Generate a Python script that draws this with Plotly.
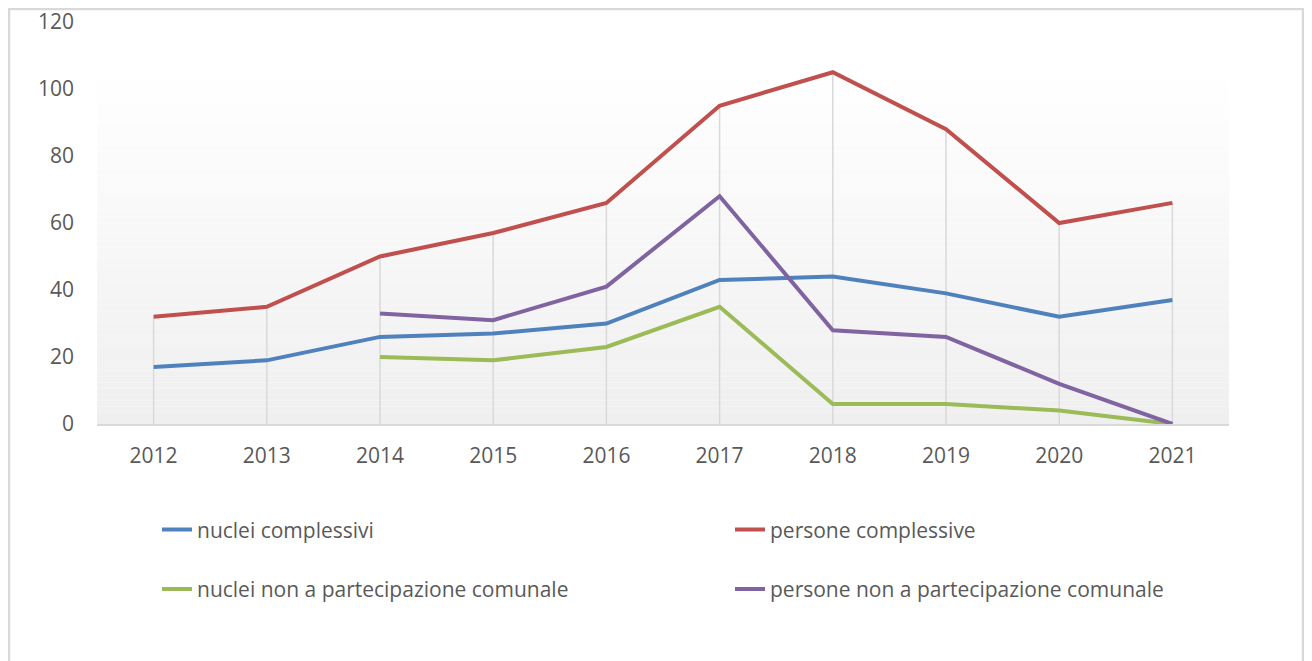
import plotly.graph_objects as go

years = ["2012", "2013", "2014", "2015", "2016", "2017", "2018", "2019", "2020", "2021"]
nuclei_complessivi = [17, 19, 26, 27, 30, 43, 44, 39, 32, 37]
persone_complessive = [32, 35, 50, 57, 66, 95, 105, 88, 60, 66]
nuclei_non_part = [None, None, 20, 19, 23, 35, 6, 6, 4, 0]
persone_non_part = [None, None, 33, 31, 41, 68, 28, 26, 12, 0]
y_ticks = [0, 20, 40, 60, 80, 100, 120]

series = [
    ("nuclei complessivi", nuclei_complessivi, "#4f81bd", "legend"),
    ("persone complessive", persone_complessive, "#c0504d", "legend2"),
    ("nuclei non a partecipazione comunale", nuclei_non_part, "#9bbb59", "legend"),
    ("persone non a partecipazione comunale", persone_non_part, "#8064a2", "legend2"),
]

FONT = "Open Sans"
TXT = "#595959"

fig = go.Figure()

# drop lines: from 0 up to the highest series value at each category
dx, dy = [], []
for i, yr in enumerate(years):
    vals = [s[1][i] for s in series if s[1][i] is not None]
    dx += [yr, yr, None]
    dy += [0, max(vals), None]
fig.add_trace(go.Scatter(x=dx, y=dy, mode="lines", line=dict(color="#d9d9d9", width=1.5),
                         hoverinfo="skip", showlegend=False, cliponaxis=False))

for k, (name, vals, col, lg) in enumerate(series):
    fig.add_trace(go.Scatter(x=years, y=vals, name=name, mode="lines",
                             line=dict(color=col, width=4), cliponaxis=False,
                             legend=lg, legendgroup=name))

# gradient background bands (white at top to light grey at bottom)
shapes = []
n = 60
top_val = 106
for i in range(n):
    y0 = top_val * i / n
    y1 = top_val * (i + 1) / n
    t = (i + 0.5) / n
    c = int(round(239 + (255 - 239) * t))
    shapes.append(dict(type="rect", xref="paper", yref="y", x0=0, x1=1, y0=y0, y1=y1,
                       fillcolor=f"rgb({c},{c},{c})", line=dict(width=0), layer="below"))
# outer chart border
shapes.append(dict(type="rect", xref="paper", yref="paper", x0=-0.0777, x1=1.0654,
                   y0=-0.65, y1=1.0323, line=dict(color="#d9d9d9", width=2.5),
                   fillcolor="rgba(0,0,0,0)", layer="above"))

fig.update_layout(
    width=1304, height=653,
    margin=dict(l=89, r=83, t=14, b=237),
    paper_bgcolor="white", plot_bgcolor="rgba(0,0,0,0)",
    font=dict(family=FONT, size=21, color=TXT),
    shapes=shapes,
    xaxis=dict(type="category", range=[-0.5, 9.5], showgrid=False, zeroline=False,
               showline=True, linecolor="#d9d9d9", linewidth=1.5, ticks="",
               tickfont=dict(family=FONT, size=21, color=TXT), ticklabelstandoff=12,
               automargin=False),
    yaxis=dict(range=[0, 120], tickvals=y_ticks, showgrid=False, zeroline=False,
               showline=False, ticks="", tickfont=dict(family=FONT, size=21, color=TXT),
               ticklabelstandoff=22, ticklabeloverflow="allow", automargin=False),
    legend=dict(x=(157 - 97) / 1132, y=-0.2126, xanchor="left", yanchor="top",
                orientation="v", tracegroupgap=29, bgcolor="rgba(0,0,0,0)",
                font=dict(family=FONT, size=21, color=TXT)),
    legend2=dict(x=(730 - 97) / 1132, y=-0.2126, xanchor="left", yanchor="top",
                 orientation="v", tracegroupgap=29, bgcolor="rgba(0,0,0,0)",
                 font=dict(family=FONT, size=21, color=TXT)),
    showlegend=True,
)

fig.write_html("out.html")
